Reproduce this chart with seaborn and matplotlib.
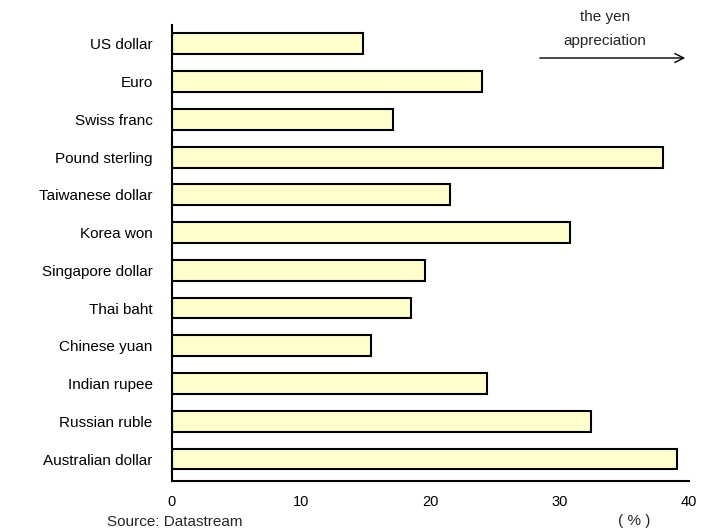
import matplotlib
matplotlib.use("Agg")
import matplotlib.pyplot as plt
import seaborn as sns
import pandas as pd

currencies = [
    "US dollar", "Euro", "Swiss franc", "Pound sterling", "Taiwanese dollar",
    "Korea won", "Singapore dollar", "Thai baht", "Chinese yuan",
    "Indian rupee", "Russian ruble", "Australian dollar",
]
appreciation = [14.8, 24.0, 17.1, 38.0, 21.5, 30.8, 19.6, 18.5, 15.4, 24.4, 32.4, 39.1]
x_ticks = [0, 10, 20, 30, 40]

sns.set_theme(style="white")
plt.rcParams["font.family"] = ["Liberation Sans", "DejaVu Sans"]

df = pd.DataFrame({"currency": currencies, "value": appreciation})

W, H = 711, 528
fig = plt.figure(figsize=(W / 100, H / 100), dpi=100)
left, right, top, bottom = 172, 689, 25, 481
ax = fig.add_axes([left / W, 1 - bottom / H, (right - left) / W, (bottom - top) / H])

sns.barplot(data=df, x="value", y="currency", orient="h", ax=ax,
            color="#ffffcc", edgecolor="black", linewidth=1.5, width=0.55,
            saturation=1)

ax.set_xlim(0, 40)
ax.set_ylim(len(currencies) - 1 + 0.58, -0.5)
ax.set_xticks(x_ticks)
ax.set_xticklabels([str(t) for t in x_ticks], fontsize=10.5)
ax.tick_params(axis="x", direction="in", length=6, width=1.2, color="black", pad=10)
ax.tick_params(axis="y", length=0, pad=14, labelsize=11)
for lbl in ax.get_yticklabels() + ax.get_xticklabels():
    lbl.set_color("black")
ax.set_xlabel("")
ax.set_ylabel("")

for side in ("top", "right"):
    ax.spines[side].set_visible(False)
for side in ("left", "bottom"):
    ax.spines[side].set_color("black")
    ax.spines[side].set_linewidth(1.5)

# direction note and arrow
fig.text(605 / W, 1 - 17 / H, "the yen", ha="center", va="center", fontsize=11)
fig.text(605 / W, 1 - 41 / H, "appreciation", ha="center", va="center", fontsize=11)
ax.annotate("", xy=(688 / W, 1 - 58 / H), xytext=(537 / W, 1 - 58 / H),
            xycoords="figure fraction", textcoords="figure fraction",
            arrowprops=dict(arrowstyle="->", color="black", lw=1.0,
                            mutation_scale=16))

fig.text(634 / W, 1 - 521 / H, "( % )", ha="center", va="center", fontsize=11)
fig.text(107 / W, 1 - 522 / H, "Source: Datastream", ha="left", va="center", fontsize=11)

fig.savefig("out.png", dpi=100)
